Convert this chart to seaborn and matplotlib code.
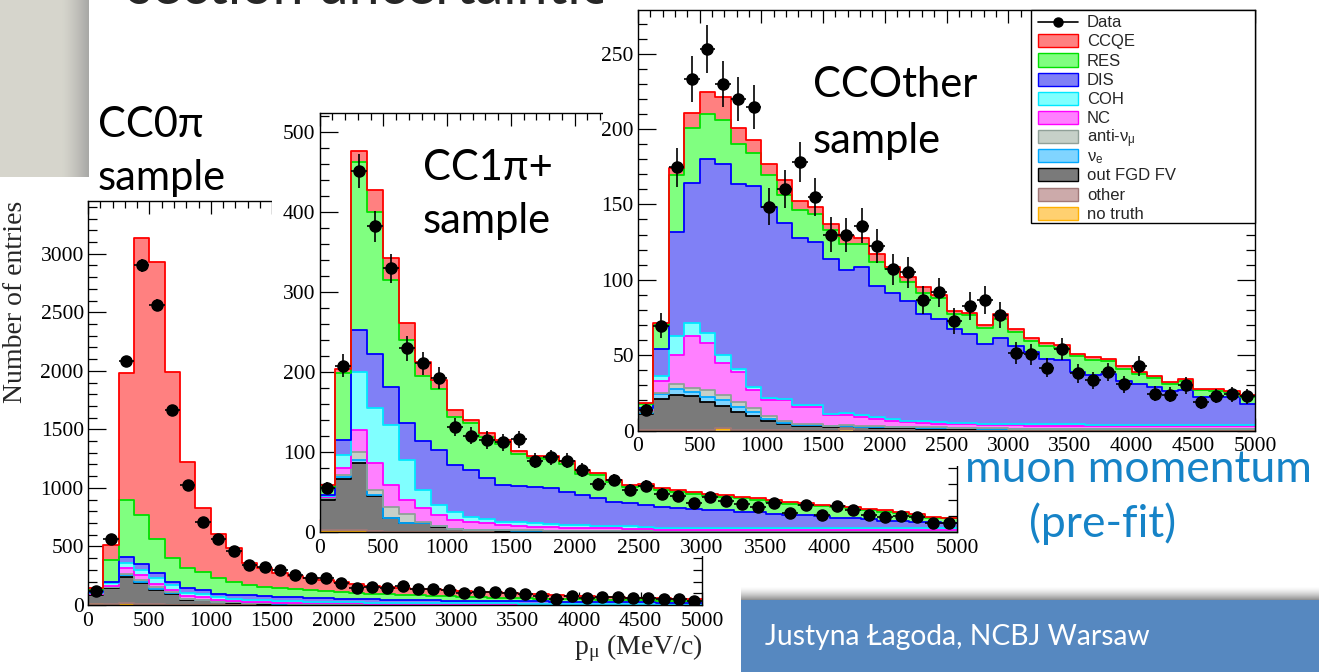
import numpy as np
import pandas as pd
import matplotlib
matplotlib.use("Agg")
import matplotlib.pyplot as plt
import seaborn as sns
from matplotlib.patches import Rectangle
from matplotlib.lines import Line2D
from matplotlib.ticker import MultipleLocator

# ---------------- data ----------------
edges = np.arange(0, 5001, 125)
centers = edges[:-1] + 62.5
BIN_EDGES = edges.tolist()

COMP_KEYS = ["CCQE", "RES", "DIS", "COH", "NC", "anti", "nue", "outFGD", "other", "notruth"]
COMP_LABELS = ["CCQE", "RES", "DIS", "COH", "NC", r"anti-$\mathregular{\nu_{\mu}}$",
               r"$\mathregular{\nu_{e}}$", "out FGD FV", "other", "no truth"]

# CC0pi sample
ccqe1 = [13,122,1083,2365,2362,1581,900,547,376,285,185,160,133,116,100,90,82,75,63,60,58,56,54,51,48,46,44,42,38,35,33,30,29,27,25,23,21,19,17,15]
res1 = [18,189,491,419,294,206,177,154,134,114,88,75,71,68,65,62,59,54,49,46,44,42,40,38,35,33,30,28,27,25,24,23,21,20,19,18,17,16,15,14]
dis1 = [9,14,50,51,36,28,37,36,28,30,38,40,36,34,34,31,29,28,27,26,25,24,23,22,22,21,20,19,19,18,17,16,16,15,15,14,14,13,12,12]
coh1 = [7,20,43,43,54,39,28,27,23,20,17,16,15,14,13,12,11,10,9,9,8,8,7,7,6,6,6,6,5,5,5,5,4,5,4,4,3,4,4,3]
nc1 = [4,9,48,41,30,24,24,22,15,11,8,8,7,7,6,6,6,6,6,6,6,5,5,5,5,4,4,4,4,4,3,3,3,3,3,3,3,2,2,2]
anti1 = [4,4,10,15,10,8,4,3,2,2,2,2,1,1,1,1,1,1,0.5,0.5,0.5,0.5,0.5,0.5,0.5,0.5,0.5,0.5,0.5,0.5,0.5,0.5,0.5,0.5,0.5,0.5,0.5,0.5,0.5,0.5]
nue1 = [5,4,13,15,12,7,4,3,2,2,2,2,2,1,1,1,1,1,0.5,0.5,0.5,0.5,0.5,0.5,0.5,0.5,0.5,0.5,0.5,0.5,0.5,0.5,0.5,0.5,0.5,0.5,0.5,0.5,0.5,0.5]
out1 = [75,142,226,177,122,89,43,38,22,19,15,11,9,8,7,6,5,4,5,4,4,4,4,3,3,3,3,2,2,2,2,2,2,1,1,1,1,1,1,1]
other1 = [2,3,4,4,3,2,1,1,1,1,1,1,1,1,1,1,1,1,0,0,0,0,0,0,0,0,0,0,0,0,0,0,0,0,0,0,0,0,0,0]
notruth1 = [8,3,12,4,3,2,1,1,1,0,0,0,0,0,0,0,0,0,0,0,0,0,0,0,0,0,0,0,0,0,0,0,0,0,0,0,0,0,0,0]
data1 = [122,565,2080,2900,2564,1661,1026,712,564,461,342,322,299,256,234,234,188,147,157,142,162,137,134,128,100,114,114,100,91,77,48,77,57,66,71,63,57,48,48,34]

# CC1pi+ sample
ccqe2 = [2,5,13.7,27.5,27,21.7,18,11.25,9,4.2,5,5,4,3.5,3.5,4,4,3,3,3,3,3,3,3,2.5,2,2,2,2,2,2,2,2,1.5,1.5,1.5,1.5,1.5,1,1]
res2 = [10.7,84,210,177,134,103.3,81,75.75,60,58.3,51,51.5,39.5,35.5,36,34.6,27,28,24,20,23,20.5,19.5,18,18,17,17,15,15,14,13,12,14,12.5,11.5,11.5,9.5,7.5,6,5.3]
dis2 = [1,19,53,68,48,46.7,61.5,69.25,58.6,58.5,52,45.5,44.5,45.5,45,41.4,37.5,35,30.5,29,27.5,26,25,23.5,22,21.5,19.5,19.5,17.5,15.5,15.5,14.5,11.5,11.5,10.5,8.5,8.5,7.5,6.5,6.2]
coh2 = [1,16.4,72.5,69.2,75,50,22.9,12.75,10.4,6,5.2,4.25,5.5,4.5,4,3.5,3.5,3.3,3.1,2.8,2.5,2.5,2.5,2.5,2.5,2.5,2.5,2.5,2.5,2.5,2.5,2.5,2.5,2.5,2.5,2.5,2.5,2.5,2.5,2.5]
nc2 = [1,8.6,27.5,33.3,27,17.5,16.6,13,11,10,8.3,6.55,5.5,4.6,4.2,3.8,3.4,3.2,3,2.8,2.7,2,2,2,2,2,2,2,2,2,2,2,2,2,2,2,2,2,2,2]
anti2 = [1,2,10,6.5,13.7,11,2,1,0.4,0.2,0.3,0.2,0.2,0.2,0.2,0.2,0.2,0.2,0.2,0.2,0.2,0.1,0.1,0.1,0.1,0.1,0.1,0.1,0.1,0.1,0.1,0.1,0.1,0.1,0.1,0.1,0.1,0.1,0.1,0.1]
nue2 = [2,3,3.5,1,1,0.7,0.2,0.3,0.3,0.3,0.2,0.2,0.2,0.2,0.2,0.2,0.2,0.2,0.2,0.2,0.2,0.1,0.1,0.1,0.1,0.1,0.1,0.1,0.1,0.1,0.1,0.1,0.1,0.1,0.1,0.1,0.1,0.1,0.1,0.1]
out2 = [38,64,84,44,16.5,10.8,10.8,6.7,3.3,2.5,2,1.8,1.6,1.5,1.4,1.3,1.2,1.1,1,1,0.9,0.8,0.8,0.8,0.8,0.8,0.8,0.8,0.8,0.8,0.8,0.8,0.8,0.8,0.8,0.8,0.8,0.8,0.8,0.8]
other2 = [0.5,1,1,0.5,0.5,0,0,0,0,0,0,0,0,0,0,0,0,0,0,0,0,0,0,0,0,0,0,0,0,0,0,0,0,0,0,0,0,0,0,0]
notruth2 = [1.5,1,1.5,0.5,0,0,0,0,0,0,0,0,0,0,0,0,0,0,0,0,0,0,0,0,0,0,0,0,0,0,0,0,0,0,0,0,0,0,0,0]
data2 = [54.6,208,451,382.5,330,229.6,210.8,193,131.7,120.5,115,112,115.8,89,93.5,89,77.5,60,65,53,57.5,48,45,35.8,44,38.75,35,30.8,35.8,24,33.75,21,32.5,28,21,19,20,18.3,11.7,11.7]

# CCOther sample
ccqe3 = [0.7,1,4.4,9.6,14.6,15,11,9,7.4,10,6,4.3,4,5,3.5,5,1.6,3.3,4,2.4,1.4,1.5,2,2.7,2.1,2.1,2,2,1.5,1.8,1.6,1.8,1.3,1.2,1,1,0.9,0.8,0.7,0.8]
res3 = [2.7,16,37.6,36.5,30,29,26.6,21.5,21,18.5,18,18.7,19,17,15.4,16.2,15.6,12.9,13.4,13.3,10,12.2,10.4,12.9,9.5,7.5,8.4,8,10.7,10.4,8.3,8,6.5,6,5,6,4.8,4.5,3.3,4.8]
dis3 = [1,18,69,93.1,115,126.7,122.4,133.5,127.1,116.5,111,108.4,103,95.4,98.6,86.9,83.9,79.3,71.6,68.8,62.4,59.3,53,57,51.8,47.9,43.5,42.5,34.8,32.7,33.8,29.2,27.2,25.1,22.3,23.4,18.4,18.5,18.5,14.2]
coh3 = [0.3,3,13,8.9,6.7,5.3,2,2,1.5,1,1.5,1.1,1,1.3,1.1,1.1,1.3,1,1,0.9,0.9,1,0.8,0.8,0.8,0.8,0.8,0.8,0.8,0.8,0.8,0.8,0.8,0.8,0.8,0.8,0.8,0.8,0.8,0.8]
nc3 = [1.7,8,19,34.1,31.7,21.7,20,12,10.7,13.8,11.1,11.1,6.7,6.3,5.9,5,3.7,3.1,2.8,2.6,2.5,2.2,2.2,2.1,2.2,2.1,2.1,2.0,2.0,1.9,1.9,1.8,1.8,1.7,1.7,1.6,1.6,1.5,1.5,1.5]
anti3 = [0.5,1,3.3,2.9,4.6,3.3,3.5,2.8,1.5,0.9,0.9,0.9,0.5,0.5,0.5,0.5,0.5,0.4,0.4,0.4,0.4,0.4,0.3,0.3,0.2,0.2,0.2,0.2,0.2,0.2,0.2,0.2,0.2,0.2,0.2,0.2,0.2,0.2,0.2,0.2]
nue3 = [0.5,3,4.4,2.9,3.2,4,3.3,2.9,1.6,1.3,0.8,0.8,0.6,0.5,0.5,0.5,0.5,0.5,0.5,0.4,0.4,0.4,0.3,0.3,0.2,0.2,0.2,0.2,0.2,0.2,0.2,0.2,0.2,0.2,0.2,0.2,0.2,0.2,0.2,0.2]
out3 = [10.5,20.5,22.8,22.1,18.3,14.5,11.7,9,5.9,3.8,2.7,2.7,2.2,2,2,1.8,1.5,1.5,1.3,1.2,1,1,1,0.9,0.8,0.8,0.8,0.8,0.8,0.8,0.8,0.8,0.8,0.8,0.8,0.8,0.8,0.8,0.8,0.8]
other3 = [0.5,0.5,0.5,0.5,0.5,0.5,0.5,0.3,0.3,0.2,0,0,0,0,0,0,0,0,0,0,0,0,0,0,0,0,0,0,0,0,0,0,0,0,0,0,0,0,0,0]
notruth3 = [0,0,0,0,0,1,0,0,0,0,0,0,0,0.8,0,0,0,0,0,0,0,0,0,0,0,0,0,0,0,0,0,0,0,0,0,0,0,0,0,0]
data3 = [13.7,69.4,174.5,233,253.4,230,220,214.6,148.6,160.5,178,155,130,129.7,136,122.4,107,105,86.5,91.6,72.5,82.7,86.5,76.5,51.4,50.5,41.7,54.3,38,33.2,38.8,30.6,42.6,24.4,23.7,29.9,18.8,22.8,23.9,22.6]

FACE = {"CCQE": "#FF8080", "RES": "#80FF80", "DIS": "#8080F6", "COH": "#80FFFF",
        "NC": "#FF80FF", "anti": "#C6D0C8", "nue": "#80D4FF", "outFGD": "#7A7A7A",
        "other": "#CCAAAA", "notruth": "#FFD070"}
EDGE = {"CCQE": "#FF0000", "RES": "#00E000", "DIS": "#0000FF", "COH": "#00E8FF",
        "NC": "#FF00FF", "anti": "#90A098", "nue": "#00A8FF", "outFGD": "#000000",
        "other": "#A07878", "notruth": "#FFB000"}

# ---------------- style ----------------
sns.set_style("ticks")
plt.rcParams["font.family"] = ["Liberation Serif", "DejaVu Serif"]
plt.rcParams["mathtext.fontset"] = "custom"
plt.rcParams["mathtext.rm"] = "Liberation Serif"
SLIDE_FONT = ["Lato", "DejaVu Sans"]

W, H = 1319, 672
fig = plt.figure(figsize=(W / 100, H / 100), dpi=100)
fig.patch.set_facecolor("white")


def fx(px):
    return px / W


def fy(py):
    return 1 - py / H


def axes_px(x0, y0, x1, y1, z):
    return fig.add_axes([x0 / W, 1 - y1 / H, (x1 - x0) / W, (y1 - y0) / H], zorder=z)


# grey decorative box (top-left)
axg = axes_px(0, 0, 89, 177, 0.5)
t = np.linspace(0, 1, 89)
mix = np.clip((t - 0.70) / 0.30, 0, 1) ** 1.3
c0 = np.array([214, 213, 204]) / 255
c1 = np.array([168, 168, 166]) / 255
row = c0[None, :] * (1 - mix[:, None]) + c1[None, :] * mix[:, None]
axg.imshow(np.repeat(row[None, :, :], 10, axis=0), aspect="auto")
axg.set_axis_off()

# slide title (almost entirely cut off at the top edge)
fig.text(fx(128), fy(4), "section uncertainties", fontsize=40, family=SLIDE_FONT,
         color="#262626", va="baseline", zorder=0.4)

# footer
axf = axes_px(741, 586, 1319, 672, 6)
rows = 86
img = np.zeros((rows, 10, 3))
blue = np.array([86, 136, 192]) / 255
for i in range(rows):
    if i < 14:
        s = (i / 13.0) ** 1.5
        img[i, :, :] = (1 - s) * np.array([1, 1, 1]) + s * np.array([0.58, 0.58, 0.58])
    else:
        img[i, :, :] = blue
axf.imshow(img, aspect="auto")
axf.set_axis_off()
fig.text(fx(765), fy(645), "Justyna Łagoda, NCBJ Warsaw", color="white", fontsize=20.3,
         family=SLIDE_FONT, va="baseline", zorder=11)


def draw_panel(ax, comps, data, ymax, ymaj, ymin):
    df = pd.concat([pd.DataFrame({"p": centers, "n": vals, "comp": key})
                    for key, vals in zip(COMP_KEYS, comps)], ignore_index=True)
    sns.histplot(data=df, x="p", weights="n", hue="comp", hue_order=COMP_KEYS, bins=BIN_EDGES,
                 multiple="stack", element="step", fill=True, palette=FACE, alpha=1,
                 linewidth=0, legend=False, ax=ax)
    sns.histplot(data=df, x="p", weights="n", hue="comp", hue_order=COMP_KEYS, bins=BIN_EDGES,
                 multiple="stack", element="step", fill=False, palette=EDGE,
                 linewidth=1.3, legend=False, ax=ax)
    d = np.array(data, dtype=float)
    ax.errorbar(centers, d, yerr=np.sqrt(d), xerr=62.5, fmt="o", color="k", ms=8,
                elinewidth=1.2, capsize=0, zorder=6)
    ax.set_xlim(0, 5000)
    ax.set_ylim(0, ymax)
    ax.xaxis.set_major_locator(MultipleLocator(500))
    ax.xaxis.set_minor_locator(MultipleLocator(100))
    ax.yaxis.set_major_locator(MultipleLocator(ymaj))
    ax.yaxis.set_minor_locator(MultipleLocator(ymin))
    ax.tick_params(which="both", direction="in", top=True, right=True, width=0.9,
                   colors="k", labelsize=15.5)
    ax.tick_params(axis="y", which="major", length=13, pad=3)
    ax.tick_params(axis="y", which="minor", length=6.5)
    ax.tick_params(axis="x", which="major", length=9.5, pad=5)
    ax.tick_params(axis="x", which="minor", length=5)
    ax.set_xlabel("")
    ax.set_ylabel("")
    ax.set_facecolor("white")
    for s in ax.spines.values():
        s.set_visible(True)
        s.set_linewidth(1.0)
        s.set_color("k")


# panel 1 (CC0pi)
ax1 = axes_px(88, 201, 702, 605, 1)
draw_panel(ax1, [ccqe1, res1, dis1, coh1, nc1, anti1, nue1, out1, other1, notruth1],
           data1, 3450, 500, 100)
ax1.set_ylabel("Number of entries", fontsize=20, loc="top")
ax1.yaxis.set_label_coords(-0.097, 1.0)
ax1.set_xlabel(r"$\mathregular{p_{\mu}}$ (MeV/c)", fontsize=20, loc="right")
ax1.xaxis.set_label_coords(1.0, -0.067)

# panel 2 canvas + axes (CC1pi+)
fig.add_artist(Rectangle((fx(272), fy(556)), fx(990) - fx(272), fy(95) - fy(556),
                         transform=fig.transFigure, facecolor="white", edgecolor="none", zorder=2))
ax2 = axes_px(319.5, 113, 957, 532, 3)
draw_panel(ax2, [ccqe2, res2, dis2, coh2, nc2, anti2, nue2, out2, other2, notruth2],
           data2, 524, 100, 20)

# panel 3 canvas + axes (CCOther)
fig.add_artist(Rectangle((fx(603), fy(466)), fx(1319) - fx(603), fy(0) - fy(466),
                         transform=fig.transFigure, facecolor="white", edgecolor="none", zorder=4))
A3 = (638, 10, 1255, 430.5)
ax3 = axes_px(*A3, 5)
draw_panel(ax3, [ccqe3, res3, dis3, coh3, nc3, anti3, nue3, out3, other3, notruth3],
           data3, 279, 50, 10)


# ---- ROOT-style legend box in panel 3 (laid out in pixel units) ----
def ax3_x(px):
    return (px - A3[0]) / (A3[2] - A3[0])


def ax3_y(py):
    return (A3[3] - py) / (A3[3] - A3[1])


lw_box = dict(transform=ax3.transAxes, clip_on=False, zorder=20)
ax3.add_patch(Rectangle((ax3_x(1031), ax3_y(223)), ax3_x(1255) - ax3_x(1031),
                        ax3_y(10) - ax3_y(223), facecolor="white", edgecolor="k",
                        linewidth=1.0, **lw_box))
row_y = 21.7
pitch = 19.15
ax3.add_line(Line2D([ax3_x(1038), ax3_x(1078)], [ax3_y(row_y), ax3_y(row_y)], color="k",
                    lw=1.2, **lw_box))
ax3.add_line(Line2D([ax3_x(1058)], [ax3_y(row_y)], color="k", marker="o", ms=6.5,
                    **lw_box))
ax3.text(ax3_x(1087), ax3_y(row_y + 5.6), "Data", fontsize=12, family="Liberation Sans",
         va="baseline", ha="left", transform=ax3.transAxes, zorder=21, clip_on=False)
for i, (key, lab) in enumerate(zip(COMP_KEYS, COMP_LABELS)):
    yc = row_y + pitch * (i + 1)
    ax3.add_patch(Rectangle((ax3_x(1038), ax3_y(yc + 6.5)), ax3_x(1078) - ax3_x(1038),
                            ax3_y(yc - 6.5) - ax3_y(yc + 6.5), facecolor=FACE[key],
                            edgecolor=EDGE[key], linewidth=1.0, **lw_box))
    ax3.text(ax3_x(1087), ax3_y(yc + 5.6), lab, fontsize=12, family="Liberation Sans",
             va="baseline", ha="left", transform=ax3.transAxes, zorder=21, clip_on=False)


def slide_text(x, y, s, size=30, color="black", ha="left"):
    fig.text(fx(x), fy(y), s, fontsize=size, family=SLIDE_FONT, color=color,
             va="baseline", ha=ha, zorder=12)


slide_text(98, 137, "CC0π")
slide_text(98, 190, "sample")
slide_text(423, 180, "CC1π+")
slide_text(423, 233, "sample")
slide_text(813, 97, "CCOther")
slide_text(813, 153, "sample")
slide_text(965, 482, "muon momentum", size=32, color="#1683C7")
slide_text(1103, 537, "(pre-fit)", size=32, color="#1683C7", ha="center")

fig.savefig("out.png", dpi=100)
